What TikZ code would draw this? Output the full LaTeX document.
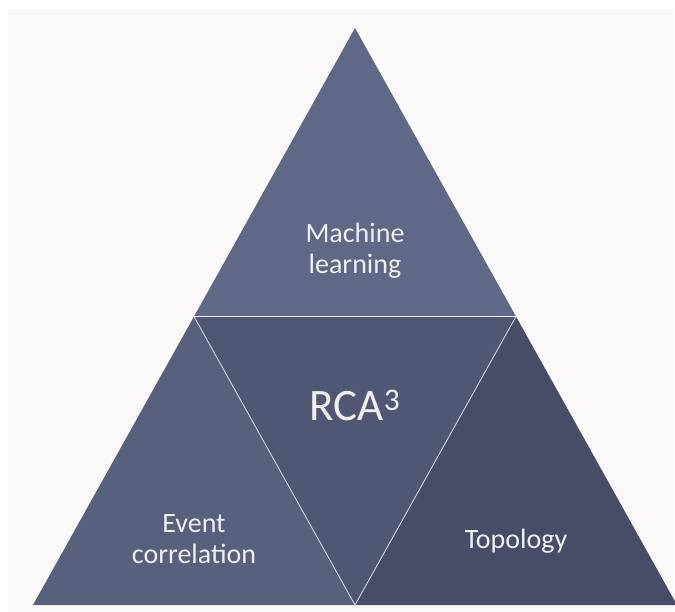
\documentclass[tikz,border=0pt]{standalone}
\usepackage{fontspec}
\setmainfont{Carlito}
\definecolor{paperbg}{HTML}{FAF9F7}
\definecolor{topblue}{HTML}{5F6886}
\definecolor{midblue}{HTML}{4F5774}
\definecolor{leftblue}{HTML}{57607D}
\definecolor{rightblue}{HTML}{474C69}
\definecolor{labelgray}{HTML}{F0F0F2}
\tikzset{
  pyrlabel/.style={text=labelgray, align=center, inner sep=0pt, font=\fontsize{28}{31}\selectfont},
  pyrcut/.style={draw=white!80!midblue, line width=0.8pt}
}
\begin{document}
\begin{tikzpicture}[x=1pt,y=-1pt]
\useasboundingbox (0,0) rectangle (675,611);
\fill[white] (0,0) rectangle (675,611);
\fill[paperbg] (8,9) rectangle (674,611);
% corners of the pyramid
\coordinate (apex) at (355,28);
\coordinate (bl) at (33,605);
\coordinate (br) at (677,605);
\coordinate (ml) at (194,316.5);
\coordinate (mr) at (516,316.5);
\coordinate (bm) at (355,605);
% the four faces
\fill[topblue] (apex) -- (ml) -- (mr) -- cycle;
\fill[leftblue] (ml) -- (bl) -- (bm) -- cycle;
\fill[rightblue] (mr) -- (bm) -- (br) -- cycle;
\fill[midblue] (ml) -- (mr) -- (bm) -- cycle;
\draw[pyrcut, line width=1.6pt, draw=white!88!topblue] (ml) -- (mr);
\draw[pyrcut] (ml) -- (bm) -- (mr);
% labels
\node[pyrlabel] (ml-text) at (355,251) {Machine\\learning};
\node[pyrlabel, font=\fontsize{45}{50}\selectfont, anchor=base] (rca) at (355,420) {RCA\textsuperscript{3}};
\node[pyrlabel] (event) at (194,539) {Event\\correlation};
\node[pyrlabel, anchor=base] (topo) at (516,548) {Topology};
\end{tikzpicture}
\end{document}
